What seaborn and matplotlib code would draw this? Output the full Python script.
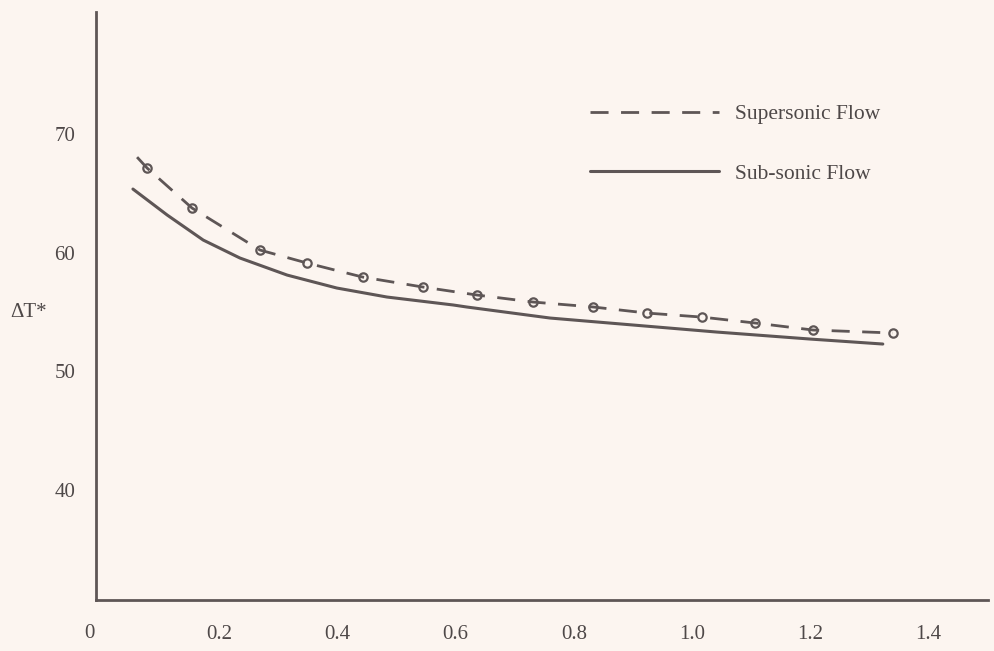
import numpy as np
import pandas as pd
import seaborn as sns
import matplotlib
matplotlib.use("Agg")
import matplotlib.pyplot as plt

# ---- data ----
sub_x = [0.054, 0.112, 0.173, 0.235, 0.315, 0.399, 0.484, 0.596, 0.619, 0.76, 1.042, 1.2, 1.323]
sub_y = [65.36, 63.17, 61.06, 59.55, 58.11, 57.02, 56.26, 55.59, 55.42, 54.49, 53.31, 52.72, 52.30]

sup_x = [0.061, 0.078, 0.154, 0.269, 0.349, 0.443, 0.545, 0.636, 0.731, 0.833, 0.924, 1.017, 1.107, 1.205, 1.34]
sup_y = [68.05, 67.13, 63.76, 60.22, 59.12, 57.94, 57.10, 56.43, 55.84, 55.42, 54.91, 54.57, 54.07, 53.48, 53.23]

x_ticks = [0.2, 0.4, 0.6, 0.8, 1.0, 1.2, 1.4]
x_tick_labels = ["0.2", "0.4", "0.6", "0.8", "1.0", "1.2", "1.4"]
y_ticks = [40, 50, 60, 70]
y_tick_labels = ["40", "50", "60", "70"]

series_names = ["Supersonic Flow", "Sub-sonic Flow"]

BG = "#fcf5f0"
INK = "#5e5656"
TXT = "#4e4848"

sns.set_theme(style="white")
plt.rcParams["font.family"] = ["Liberation Serif", "DejaVu Serif"]
plt.rcParams["axes.facecolor"] = BG
plt.rcParams["figure.facecolor"] = BG

fig = plt.figure(figsize=(9.94, 6.51), dpi=100)
ax = fig.add_axes([96 / 994, 1 - 600 / 651, (988 - 96) / 994, 588 / 651])
ax.set_facecolor(BG)

sup_df = pd.DataFrame({"x": sup_x, "y": sup_y})
sub_df = pd.DataFrame({"x": sub_x, "y": sub_y})

sns.lineplot(data=sup_df, x="x", y="y", ax=ax, color=INK, lw=2.0,
             linestyle=(0, (6.5, 4.5)), marker="o", markersize=6,
             markerfacecolor="none", markeredgecolor=INK, markeredgewidth=1.6,
             markevery=list(range(1, len(sup_x))), sort=False,
             label=series_names[0], estimator=None)
sns.lineplot(data=sub_df, x="x", y="y", ax=ax, color=INK, lw=2.2,
             sort=False, label=series_names[1], estimator=None)

ax.set_xlim(-0.0085, 1.501)
ax.set_ylim(30.73, 80.28)

for s in ["top", "right"]:
    ax.spines[s].set_visible(False)
for s in ["left", "bottom"]:
    ax.spines[s].set_color(INK)
    ax.spines[s].set_linewidth(2.0)

ax.set_xticks(x_ticks)
ax.set_xticklabels(x_tick_labels)
ax.set_yticks(y_ticks)
ax.set_yticklabels(y_tick_labels)
ax.tick_params(axis="both", direction="in", length=5, width=1.5, color=INK,
               labelsize=15, labelcolor=TXT)
ax.tick_params(axis="y", pad=15)
ax.tick_params(axis="x", pad=18)
ax.set_xlabel("")
ax.set_ylabel("")

fig.text(89 / 994, 1 - 634 / 651, "0", fontsize=15, color=TXT, ha="center", va="center")
fig.text(10 / 994, 1 - 313 / 651, "ΔT*", fontsize=15, color=TXT, ha="left", va="center")

leg = ax.legend(loc="upper left", bbox_to_anchor=(590 / 994, 1 - 104 / 651),
                bbox_transform=fig.transFigure, frameon=False, fontsize=15.5,
                handlelength=6.0, handletextpad=0.75, labelspacing=1.85,
                borderpad=0, borderaxespad=0)
for t in leg.get_texts():
    t.set_color(TXT)
for h in leg.get_lines():
    h.set_marker("")

fig.savefig("out.png", dpi=100, facecolor=BG)
